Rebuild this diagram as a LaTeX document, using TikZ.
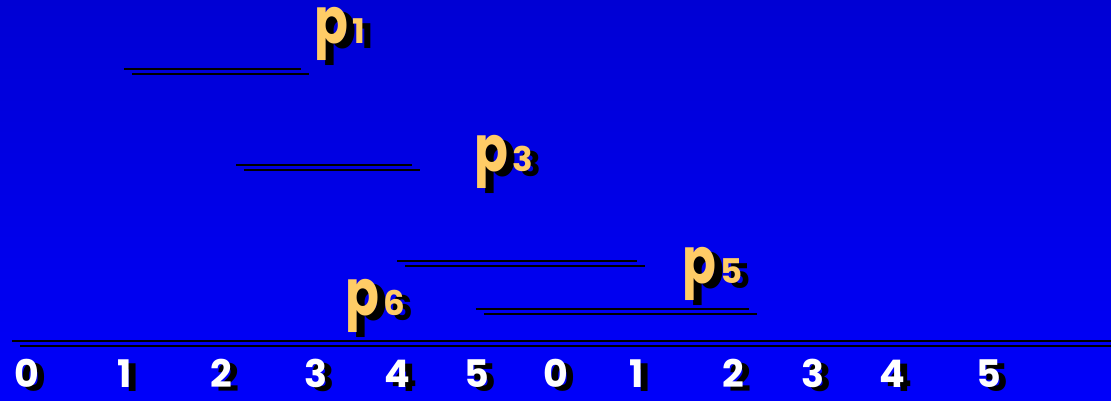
\documentclass[tikz,border=0pt]{standalone}
\usepackage{fontspec}
\usepackage{graphicx}
\setmainfont{Poppins}
\definecolor{bgtop}{RGB}{0,0,212}
\definecolor{bgbot}{RGB}{0,0,250}
\definecolor{plabel}{RGB}{255,204,102}
\tikzset{
  seg/.style={line width=2pt, black},
  pfnt/.style={font=\bfseries\fontsize{64}{64}\selectfont, inner sep=0pt, anchor=base west},
  ptext/.style={pfnt, text=plabel},
  pshadow/.style={pfnt, text=black},
  numfnt/.style={font=\bfseries\fontsize{38}{38}\selectfont, inner sep=0pt, anchor=base},
  numtext/.style={numfnt, text=white},
  numshadow/.style={numfnt, text=black},
}
\newcommand{\plab}[1]{\scalebox{0.78}[1]{p}\hspace{4pt}{\fontsize{34}{34}\selectfont #1}}
\begin{document}
\begin{tikzpicture}[x=1pt,y=-1pt]
\useasboundingbox (0,0) rectangle (1111,400);
\shade[top color=bgtop, bottom color=bgbot] (0,0) rectangle (1111,400);
% interval lines (with shadow)
\foreach \n/\a/\b/\y in {i1/124/301/68.5, i3/236/412/164.5, i5/397/637/261, i6/476/749/309, ax/12/1111/340.5}{
  \coordinate (\n sa) at (\a+8,\y+5);
  \coordinate (\n sb) at (\b+8,\y+5);
  \coordinate (\n a) at (\a,\y);
  \coordinate (\n b) at (\b,\y);
  \draw[seg] (\n sa) -- (\n sb);
  \draw[seg] (\n a) -- (\n b);
}
% p labels
\foreach \n/\d/\x/\y in {p1/1/314/43, p3/3/474/171, p5/5/682/283, p6/6/345/315}{
  \node[pshadow] (\n s) at (\x+8,\y+5) {\plab{\d}};
  \node[ptext] (\n) at (\x,\y) {\plab{\d}};
}
% axis numbers
\foreach \d/\x [count=\i] in {0/27,1/125,2/221,3/316,4/397,5/477,0/556,1/637,2/733,3/813,4/892,5/989}{
  \node[numshadow] (n\i s) at (\x+7,391) {\d};
  \node[numtext] (n\i) at (\x,387) {\d};
}
\end{tikzpicture}
\end{document}
